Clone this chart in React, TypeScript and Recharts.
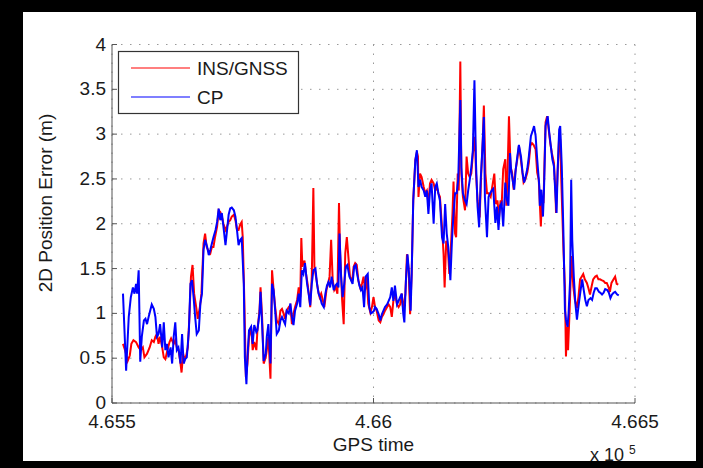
import React from 'react';
import { LineChart, Line, XAxis, YAxis, CartesianGrid } from 'recharts';

const insTime = [465521,465525,465530,465534,465537,465541,465546,465551,465555,465559,465562,465567,465572,465576,465580,465583,465586,465589,465592,465596,465599,465602,465606,465610,465613,465618,465621,465624,465627,465631,465633,465636,465638,465642,465645,465648,465651,465654,465657,465661,465664,465668,465671,465675,465678,465681,465685,465688,465691,465694,465697,465701,465704,465707,465710,465713,465717,465720,465723,465726,465729,465733,465736,465739,465742,465745,465748,465750,465753,465756,465759,465762,465766,465769,465772,465776,465778,465782,465784,465787,465790,465794,465796,465799,465803,465806,465809,465812,465815,465819,465822,465825,465828,465831,465834,465838,465841,465844,465847,465850,465854,465857,465860,465862,465864,465868,465871,465874,465877,465879,465882,465885,465887,465890,465894,465897,465900,465903,465906,465910,465913,465916,465919,465922,465925,465928,465931,465934,465936,465940,465943,465946,465949,465952,465955,465959,465962,465965,465968,465971,465975,465978,465981,465984,465987,465990,465994,465997,466000,466003,466006,466010,466013,466016,466019,466022,466026,466029,466032,466035,466038,466041,466045,466048,466051,466054,466057,466061,466064,466067,466070,466073,466076,466080,466083,466085,466086,466089,466092,466096,466099,466102,466105,466108,466111,466115,466118,466121,466124,466127,466131,466134,466136,466139,466142,466145,466148,466151,466153,466156,466158,466161,466163,466166,466168,466171,466175,466178,466181,466184,466187,466190,466194,466196,466199,466203,466206,466209,466211,466214,466217,466220,466224,466227,466231,466234,466237,466240,466243,466245,466248,466252,466254,466256,466259,466262,466265,466268,466271,466275,466278,466281,466284,466287,466290,466294,466297,466300,466303,466306,466310,466313,466316,466318,466320,466322,466325,466329,466332,466335,466338,466341,466345,466348,466349,466352,466355,466357,466359,466363,466366,466368,466370,466372,466375,466377,466379,466382,466385,466389,466392,466395,466398,466401,466404,466408,466411,466414,466417,466420,466424,466427,466430,466433,466436,466440,466443,466446,466449,466452,466455,466459,466462,466465,466468];
const insError = [0.66,0.59,0.47,0.53,0.66,0.70,0.68,0.62,0.59,0.62,0.51,0.55,0.62,0.70,0.68,0.74,0.77,0.66,0.74,0.62,0.51,0.49,0.59,0.68,0.72,0.66,0.70,0.62,0.60,0.44,0.34,0.55,0.49,0.53,0.62,0.96,1.41,1.54,1.22,1.07,0.94,1.07,1.22,1.78,1.89,1.74,1.69,1.67,1.74,1.74,1.85,1.97,2.15,2.13,2.08,2.00,1.93,1.97,2.02,2.04,2.08,2.10,2.04,1.93,1.93,1.99,2.02,1.85,1.15,0.29,0.44,0.74,0.85,0.59,0.68,0.59,0.81,1.03,1.29,0.96,0.44,0.51,0.59,0.74,0.27,1.48,1.26,1.07,0.92,0.88,1.03,1.05,1.00,0.94,1.03,1.07,1.09,0.88,1.00,1.07,1.15,1.29,1.18,1.84,1.52,1.59,1.44,1.33,1.18,1.07,1.41,2.40,1.52,1.41,1.26,1.18,1.22,1.15,1.07,1.26,1.33,1.41,1.82,1.37,1.26,1.29,1.22,2.23,1.71,1.15,0.88,1.67,1.85,1.63,1.41,1.35,1.52,1.56,1.54,1.37,1.28,1.33,1.41,1.26,1.41,1.11,1.01,1.07,1.18,1.07,1.03,0.92,0.90,0.96,0.99,1.03,1.07,1.10,1.07,0.96,1.14,1.22,1.10,1.07,1.10,1.22,1.03,1.22,1.66,1.51,0.99,1.44,2.26,2.71,2.80,2.75,2.30,2.56,2.52,2.41,2.34,2.37,2.22,2.45,2.49,2.45,2.37,2.41,2.34,2.30,1.96,1.66,1.29,1.81,1.74,1.44,1.74,2.11,2.47,1.89,1.85,2.56,2.37,3.81,2.56,2.30,2.15,2.75,2.56,2.52,2.56,2.78,2.97,2.56,2.26,2.07,2.56,2.93,3.32,2.56,2.34,2.34,2.30,2.41,2.56,2.22,2.26,2.07,2.26,2.20,2.61,2.72,2.20,2.49,3.20,2.64,2.57,2.38,2.57,2.72,2.87,2.75,2.61,2.46,2.49,2.57,2.68,2.87,2.90,2.88,2.83,2.57,2.49,2.23,1.97,2.31,2.23,3.13,3.20,3.05,2.90,2.79,2.68,2.34,2.12,2.57,2.98,2.94,2.49,1.75,1.30,0.52,0.85,0.59,1.04,1.38,1.64,1.30,1.15,1.06,1.19,1.38,1.41,1.44,1.38,1.34,1.28,1.21,1.30,1.38,1.41,1.42,1.38,1.38,1.37,1.36,1.34,1.34,1.30,1.24,1.34,1.38,1.41,1.33,1.32];

const cpTime = [465521,465527,465532,465536,465540,465543,465546,465548,465551,465554,465557,465561,465564,465567,465570,465573,465576,465580,465583,465586,465589,465592,465596,465599,465602,465605,465608,465612,465615,465618,465621,465624,465627,465631,465634,465637,465640,465643,465647,465650,465653,465656,465659,465662,465666,465669,465672,465675,465678,465682,465685,465688,465691,465694,465698,465701,465704,465707,465710,465713,465717,465720,465723,465726,465729,465733,465736,465739,465742,465745,465748,465752,465754,465757,465759,465762,465766,465769,465772,465776,465778,465782,465784,465787,465790,465794,465796,465799,465803,465806,465809,465812,465815,465819,465822,465825,465828,465831,465834,465838,465841,465844,465847,465850,465854,465857,465860,465863,465866,465869,465873,465876,465879,465882,465885,465889,465892,465895,465898,465901,465905,465908,465911,465914,465917,465920,465924,465927,465930,465933,465935,465938,465941,465944,465947,465950,465954,465957,465960,465963,465966,465969,465973,465976,465979,465982,465985,465989,465992,465995,465998,466001,466003,466006,466010,466013,466016,466019,466022,466026,466029,466032,466035,466038,466041,466045,466048,466051,466054,466057,466059,466062,466065,466068,466071,466073,466076,466080,466083,466086,466089,466092,466096,466099,466102,466105,466108,466111,466115,466118,466121,466124,466127,466131,466134,466137,466140,466143,466147,466150,466153,466156,466159,466162,466166,466168,466171,466175,466178,466181,466184,466187,466190,466193,466196,466199,466202,466205,466208,466211,466213,466217,466220,466223,466226,466229,466233,466236,466239,466242,466245,466248,466252,466255,466258,466261,466263,466266,466269,466272,466275,466278,466282,466285,466288,466291,466294,466297,466301,466304,466307,466310,466313,466317,466318,466321,466324,466326,466329,466333,466336,466339,466342,466345,466348,466350,466352,466355,466357,466360,466363,466366,466368,466371,466373,466376,466378,466380,466383,466386,466389,466392,466396,466399,466402,466405,466408,466411,466415,466418,466421,466424,466427,466431,466434,466437,466440,466443,466447,466450,466453,466456,466459,466462,466466,466469];
const cpError = [1.22,0.36,0.96,1.18,1.29,1.22,1.33,1.22,1.48,0.46,0.74,0.92,0.94,0.88,0.96,1.03,1.10,1.05,0.96,0.74,0.77,0.88,0.62,0.90,0.59,0.66,0.51,0.62,0.44,0.74,0.90,0.59,0.62,0.44,0.77,0.44,0.49,0.51,0.81,1.33,1.37,1.18,0.96,0.77,0.81,1.11,1.22,1.71,1.82,1.74,1.65,1.71,1.78,1.85,1.93,2.02,2.17,2.04,2.12,1.97,1.76,1.93,2.10,2.17,2.18,2.15,2.08,1.93,1.76,1.82,1.84,1.33,0.51,0.21,0.51,0.81,0.85,0.66,0.87,0.79,0.81,1.00,1.24,0.88,0.47,0.55,0.74,0.88,0.44,1.33,1.26,1.03,0.77,0.81,0.92,0.96,0.92,0.88,1.03,1.00,1.11,0.96,0.87,1.03,1.11,1.22,1.07,1.48,1.44,1.56,1.33,1.22,1.09,1.33,1.48,1.50,1.33,1.22,1.18,1.11,1.07,1.22,1.31,1.35,1.29,1.41,1.26,1.31,1.33,1.29,1.89,1.41,1.18,1.33,1.52,1.54,1.41,1.37,1.33,1.52,1.54,1.43,1.31,1.26,1.29,1.07,1.41,1.44,1.07,1.00,1.01,1.03,1.07,1.05,0.99,0.92,0.99,1.03,1.07,1.10,1.14,1.18,1.29,1.14,1.31,1.10,1.14,1.18,1.22,0.99,0.90,1.37,1.66,1.44,1.03,1.44,2.26,2.71,2.82,2.41,2.49,2.41,2.37,2.30,2.37,2.11,2.37,2.45,2.00,2.41,2.45,2.34,2.26,1.85,1.78,2.22,1.89,1.74,1.37,1.81,2.11,2.34,2.34,2.49,3.38,2.63,2.34,2.26,2.22,2.37,2.49,2.63,2.82,3.60,2.67,2.19,1.96,2.49,2.82,3.19,2.30,1.85,2.30,2.34,2.37,2.39,2.01,2.19,1.93,2.20,2.23,1.97,2.46,2.27,2.20,2.79,2.61,2.49,2.38,2.61,2.75,2.88,2.75,2.57,2.46,2.53,2.61,2.75,2.98,3.03,3.09,2.98,2.72,2.42,2.20,2.38,2.08,2.38,3.09,3.20,3.02,2.87,2.72,2.64,2.31,2.12,2.57,3.05,3.09,2.64,1.93,1.04,0.93,0.85,1.00,1.38,2.49,1.82,1.41,1.11,0.93,1.08,1.26,1.38,1.26,1.15,1.08,1.15,1.17,1.15,1.23,1.28,1.28,1.24,1.23,1.21,1.23,1.27,1.26,1.23,1.17,1.21,1.23,1.24,1.21,1.20];

const xTicks = [465500, 466000, 466500];
const xTickLabels = ['4.655', '4.66', '4.665'];
const yTicks = [0, 0.5, 1, 1.5, 2, 2.5, 3, 3.5, 4];
const yTickLabels = ['0', '0.5', '1', '1.5', '2', '2.5', '3', '3.5', '4'];
const seriesNames = ['INS/GNSS', 'CP'];
const xTitle = 'GPS time';
const yTitle = '2D Position Error (m)';

const insData = insTime.map((t, i) => ({ t, v: insError[i] }));
const cpData = cpTime.map((t, i) => ({ t, v: cpError[i] }));

const FONT = '"Liberation Sans", Arial, Helvetica, sans-serif';
const AXIS = '#555';
const TXT = '#1a1a1a';

const XTick = (props: any) => {
  const { x, y, payload } = props;
  const idx = xTicks.indexOf(payload.value);
  return (
    <g>
      <line x1={x} x2={x} y1={y} y2={y - 5} stroke={AXIS} strokeWidth={1} />
      <text x={x} y={y + 25} textAnchor="middle" fontSize={19} fontFamily={FONT} fill={TXT}>
        {xTickLabels[idx]}
      </text>
    </g>
  );
};

const YTick = (props: any) => {
  const { x, y, payload } = props;
  const idx = yTicks.indexOf(payload.value);
  return (
    <g>
      <line x1={x} x2={x + 5} y1={y} y2={y} stroke={AXIS} strokeWidth={1} />
      <text x={x - 6} y={y + 6} textAnchor="end" fontSize={19} fontFamily={FONT} fill={TXT}>
        {yTickLabels[idx]}
      </text>
    </g>
  );
};

export default function App() {
  return (
    <div style={{ position: 'absolute', left: 0, top: 0, width: 703, height: 468, background: '#000', overflow: 'hidden' }}>
      <div style={{ position: 'absolute', left: 23, top: 12, width: 673, height: 449, background: '#fff' }} />
      <div style={{ position: 'absolute', left: 0, top: 0 }}>
        <LineChart width={703} height={468} margin={{ top: 44.5, right: 68, bottom: 0, left: 0 }}>
          <CartesianGrid stroke="#999" strokeDasharray="1.5 7.5" strokeWidth={1} />
          <XAxis
            dataKey="t"
            type="number"
            domain={[465500, 466500]}
            ticks={xTicks}
            allowDataOverflow
            height={65}
            tickSize={0}
            tickMargin={0}
            tick={<XTick />}
            axisLine={{ stroke: AXIS, strokeWidth: 1 }}
            tickLine={false}
            interval={0}
          />
          <YAxis
            dataKey="v"
            type="number"
            domain={[0, 4]}
            ticks={yTicks}
            width={112}
            tickSize={0}
            tickMargin={0}
            tick={<YTick />}
            axisLine={{ stroke: AXIS, strokeWidth: 1 }}
            tickLine={false}
            interval={0}
          />
          <Line data={insData} dataKey="v" name={seriesNames[0]} stroke="#ff0000" strokeWidth={2} dot={false} isAnimationActive={false} type="linear" />
          <Line data={cpData} dataKey="v" name={seriesNames[1]} stroke="#0000ff" strokeWidth={2} dot={false} isAnimationActive={false} type="linear" />
        </LineChart>
      </div>
      <svg width={703} height={468} style={{ position: 'absolute', left: 0, top: 0, pointerEvents: 'none' }}>
        <rect x={118.5} y={51.5} width={180} height={62} fill="#fff" stroke="#333" strokeWidth={1.2} />
        <line x1={131} x2={190} y1={68} y2={68} stroke="#ff0000" strokeWidth={1.2} />
        <text x={197} y={75} fontSize={19} fontFamily={FONT} fill={TXT}>{seriesNames[0]}</text>
        <line x1={131} x2={190} y1={97} y2={97} stroke="#0000ff" strokeWidth={1.2} />
        <text x={197} y={104} fontSize={19} fontFamily={FONT} fill={TXT}>{seriesNames[1]}</text>
        <text x={373.5} y={451} textAnchor="middle" fontSize={19} fontFamily={FONT} fill={TXT}>{xTitle}</text>
        <text x={0} y={0} transform="translate(52,203) rotate(-90)" textAnchor="middle" fontSize={19} fontFamily={FONT} fill={TXT}>{yTitle}</text>
        <text x={590} y={461} fontSize={18} fontFamily={FONT} fill={TXT}>x 10</text>
        <text x={629} y={454} fontSize={12} fontFamily={FONT} fill={TXT}>5</text>
      </svg>
    </div>
  );
}
